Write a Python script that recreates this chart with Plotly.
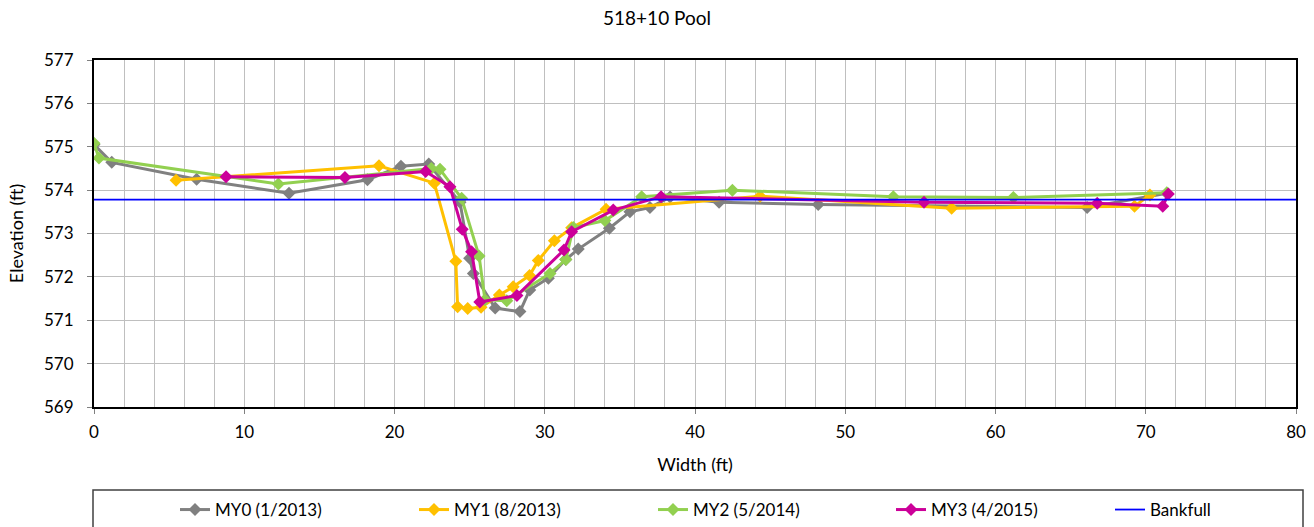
import plotly.graph_objects as go

# ---- data ----
my0_x = [0, 1.18, 6.83, 12.98, 18.2, 20.43, 22.28, 24.36, 25.0, 25.25, 26.7, 28.35, 29.0, 30.24, 31.4, 32.23, 34.3, 35.67, 37.0, 38.34, 41.6, 48.2, 66.1, 71.4]
my0_y = [575.05, 574.64, 574.25, 573.93, 574.24, 574.55, 574.6, 573.72, 572.43, 572.08, 571.28, 571.2, 571.7, 571.97, 572.4, 572.64, 573.12, 573.5, 573.6, 573.84, 573.72, 573.67, 573.6, 573.93]

my1_x = [5.46, 18.97, 22.65, 24.08, 24.2, 24.87, 25.76, 26.98, 27.9, 28.99, 29.57, 30.64, 31.79, 34.08, 44.33, 57.08, 69.25, 70.28]
my1_y = [574.23, 574.56, 574.16, 572.36, 571.31, 571.27, 571.3, 571.58, 571.77, 572.03, 572.38, 572.83, 573.13, 573.56, 573.86, 573.58, 573.63, 573.89]

my2_x = [0, 0.33, 12.27, 22.45, 23.03, 24.47, 25.63, 26.02, 27.47, 30.35, 31.4, 31.9, 34.0, 36.45, 42.49, 53.2, 61.19, 71.4]
my2_y = [575.08, 574.74, 574.14, 574.5, 574.48, 573.81, 572.48, 571.47, 571.45, 572.08, 572.4, 573.14, 573.3, 573.85, 574.0, 573.85, 573.83, 573.94]

my3_x = [8.79, 16.7, 22.07, 23.69, 24.51, 25.13, 25.68, 28.15, 31.28, 31.79, 34.56, 37.74, 55.24, 66.77, 71.13, 71.5]
my3_y = [574.31, 574.29, 574.43, 574.08, 573.1, 572.58, 571.42, 571.57, 572.62, 573.04, 573.54, 573.85, 573.72, 573.7, 573.63, 573.91]

bankfull_x = [0, 80]
bankfull_y = [573.78, 573.78]

series_names = ["MY0 (1/2013)", "MY1 (8/2013)", "MY2 (5/2014)", "MY3 (4/2015)"]
series_colors = ["#808080", "#FFC000", "#92D050", "#CC0099"]
series_x = [my0_x, my1_x, my2_x, my3_x]
series_y = [my0_y, my1_y, my2_y, my3_y]

FONT = "Lato, Open Sans, sans-serif"

# legend placement (pixel x of each legend entry)
legend_ids = ["legend", "legend2", "legend3", "legend4", "legend5"]
legend_px = [175, 414, 653, 891, 1110]
PLOT_L, PLOT_R, PLOT_T, PLOT_B = 94, 1296, 60, 407
PW = PLOT_R - PLOT_L
PH = PLOT_B - PLOT_T

fig = go.Figure()
for i, (name, color, xs, ys) in enumerate(zip(series_names, series_colors, series_x, series_y)):
    fig.add_trace(go.Scatter(
        x=xs, y=ys, name=name, mode="lines+markers",
        line=dict(color=color, width=3),
        marker=dict(symbol="diamond", size=10, color=color),
        legend=legend_ids[i],
    ))
fig.add_trace(go.Scatter(
    x=bankfull_x, y=bankfull_y, name="Bankfull", mode="lines",
    line=dict(color="#0000FF", width=1.8),
    legend=legend_ids[4],
))

legend_y = (PLOT_B - 510) / PH
legends = {}
for lid, px in zip(legend_ids, legend_px):
    legends[lid] = dict(
        x=(px - PLOT_L) / PW, xanchor="left", y=legend_y, yanchor="middle",
        orientation="h", font=dict(family=FONT, size=17, color="black"),
        bgcolor="rgba(0,0,0,0)", borderwidth=0, tracegroupgap=0,
    )

fig.update_layout(
    width=1314, height=527,
    margin=dict(l=PLOT_L, r=1314 - PLOT_R, t=PLOT_T, b=527 - PLOT_B, autoexpand=False),
    paper_bgcolor="white", plot_bgcolor="white",
    font=dict(family=FONT, size=17, color="black"),
    title=dict(text="518+10 Pool", x=0.5, xanchor="center", y=0.965, yanchor="middle",
               font=dict(family=FONT, size=19, color="black")),
    showlegend=True,
    shapes=[dict(type="rect", xref="paper", yref="paper",
                 x0=(93 - PLOT_L) / PW, x1=(1303 - PLOT_L) / PW,
                 y0=(PLOT_B - 540) / PH, y1=(PLOT_B - 490) / PH,
                 line=dict(color="#404040", width=1.5), fillcolor="rgba(0,0,0,0)")],
    **legends,
)

fig.update_xaxes(
    range=[0, 80], dtick=10, tick0=0,
    showline=True, linecolor="black", linewidth=2, mirror=True,
    ticks="outside", ticklen=5, tickcolor="#808080",
    ticklabelstandoff=4,
    showgrid=True, gridcolor="#BFBFBF", gridwidth=1.2,
    minor=dict(dtick=2, showgrid=True, gridcolor="#BFBFBF", gridwidth=1.2),
    zeroline=False,
    title=dict(text="Width (ft)", font=dict(family=FONT, size=18), standoff=17),
    tickfont=dict(family=FONT, size=17),
)
fig.update_yaxes(
    range=[569, 577], dtick=1,
    showline=True, linecolor="black", linewidth=2, mirror=True,
    ticks="outside", ticklen=5, tickcolor="#808080",
    ticklabelstandoff=10,
    showgrid=True, gridcolor="#BFBFBF", gridwidth=1.2,
    zeroline=False,
    title=dict(text="Elevation (ft)", font=dict(family=FONT, size=18), standoff=16),
    tickfont=dict(family=FONT, size=17),
)

fig.write_html("out.html")
